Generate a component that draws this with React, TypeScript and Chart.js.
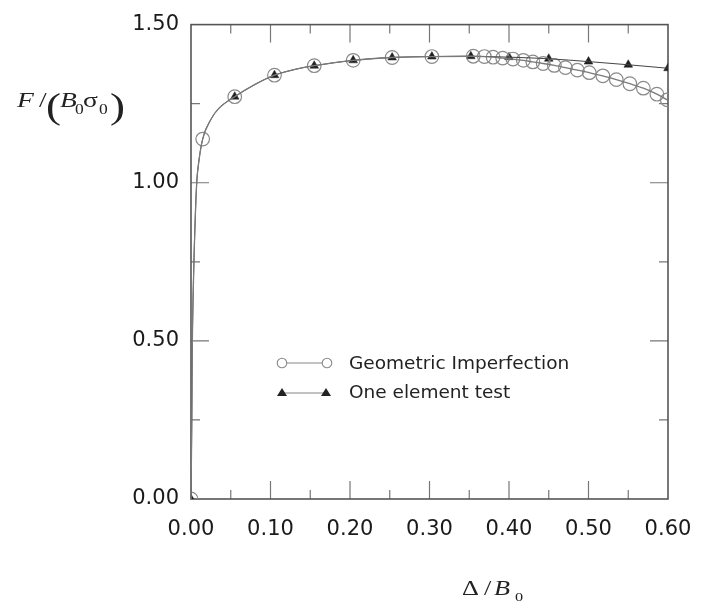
import React, { useEffect, useRef } from "react";
import { Chart, registerables } from "chart.js";

Chart.register(...registerables);

// ---------- data ----------
const xTickLabels = ["0.00", "0.10", "0.20", "0.30", "0.40", "0.50", "0.60"];
const yTickLabels = ["0.00", "0.50", "1.00", "1.50"];
const xMajorMarks = [0.1, 0.2, 0.3, 0.4, 0.5];
const xMinorMarks = [0.05, 0.15, 0.25, 0.35, 0.45, 0.55];
const yMajorMarks = [0.5, 1.0];
const yMinorMarks = [0.25, 0.75, 1.25];

const seriesLabels = ["Geometric Imperfection", "One element test"];

// smooth response curve (line only)
const giCurveX = [0, 0.0005, 0.001, 0.0015, 0.0025, 0.004, 0.0055, 0.0072, 0.01, 0.0147, 0.025, 0.035, 0.055, 0.08, 0.105, 0.13, 0.155, 0.204, 0.253, 0.303, 0.352,
  0.369, 0.380, 0.392, 0.405, 0.418, 0.430, 0.443, 0.457, 0.471, 0.486, 0.501, 0.518, 0.535, 0.552, 0.569, 0.586, 0.599];
const giCurveY = [0, 0.12, 0.25, 0.45, 0.62, 0.78, 0.9, 1.0, 1.07, 1.138, 1.2, 1.235, 1.272, 1.31, 1.34, 1.358, 1.37, 1.387, 1.396, 1.399, 1.400,
  1.399, 1.397, 1.394, 1.391, 1.387, 1.382, 1.377, 1.371, 1.364, 1.356, 1.348, 1.338, 1.326, 1.313, 1.299, 1.280, 1.262];

// markers (circles)
const giMarkX = [0, 0.0147, 0.055, 0.105, 0.155, 0.204, 0.253, 0.303, 0.355, 0.369, 0.380, 0.392, 0.405, 0.418, 0.430, 0.443, 0.457, 0.471, 0.486, 0.501, 0.518, 0.535, 0.552, 0.569, 0.586, 0.599];
const giMarkY = [0, 1.138, 1.272, 1.340, 1.370, 1.387, 1.396, 1.399, 1.400, 1.399, 1.397, 1.394, 1.391, 1.387, 1.382, 1.377, 1.371, 1.364, 1.356, 1.348, 1.338, 1.326, 1.313, 1.299, 1.280, 1.262];

// one element test curve and triangles
const oeCurveX = [0, 0.0005, 0.001, 0.0015, 0.0025, 0.004, 0.0055, 0.0072, 0.01, 0.0147, 0.025, 0.035, 0.055, 0.08, 0.105, 0.13, 0.155, 0.204, 0.253, 0.303, 0.352, 0.40, 0.45, 0.50, 0.55, 0.60];
const oeCurveY = [0, 0.12, 0.25, 0.45, 0.62, 0.78, 0.9, 1.0, 1.07, 1.138, 1.2, 1.235, 1.272, 1.31, 1.34, 1.358, 1.37, 1.387, 1.396, 1.399, 1.400, 1.397, 1.392, 1.383, 1.373, 1.362];
const oeMarkX = [0, 0.055, 0.105, 0.155, 0.204, 0.253, 0.303, 0.352, 0.40, 0.45, 0.50, 0.55, 0.60];
const oeMarkY = [0, 1.272, 1.340, 1.370, 1.387, 1.396, 1.399, 1.400, 1.397, 1.392, 1.383, 1.373, 1.362];

const pts = (xs: number[], ys: number[]) => xs.map((x, i) => ({ x, y: ys[i] }));

const SERIF = '"Liberation Serif", "Times New Roman", serif';
const SANS = '"DejaVu Sans", sans-serif';

type Seg = { t: string; size: number; italic?: boolean; x: number; y: number };

function drawSegs(ctx: CanvasRenderingContext2D, segs: Seg[], stretch: number) {
  ctx.fillStyle = "#222";
  ctx.textAlign = "left";
  ctx.textBaseline = "alphabetic";
  segs.forEach((s) => {
    ctx.save();
    ctx.translate(s.x, s.y);
    ctx.scale(stretch, 1);
    ctx.font = `${s.italic ? "italic " : ""}${s.size}px ${SERIF}`;
    ctx.fillText(s.t, 0, 0);
    ctx.restore();
  });
}

const decorPlugin = {
  id: "decor",
  beforeDatasetsDraw(chart: any) {
    const { ctx, chartArea: a, scales } = chart;
    const xs = scales.x;
    const ys = scales.y;
    ctx.save();
    ctx.strokeStyle = "#777";
    ctx.lineWidth = 1.2;
    const major = 18;
    const minor = 9;
    const xMark = (v: number, len: number) => {
      const px = xs.getPixelForValue(v);
      ctx.beginPath();
      ctx.moveTo(px, a.bottom);
      ctx.lineTo(px, a.bottom - len);
      ctx.moveTo(px, a.top);
      ctx.lineTo(px, a.top + len);
      ctx.stroke();
    };
    const yMark = (v: number, len: number) => {
      const py = ys.getPixelForValue(v);
      ctx.beginPath();
      ctx.moveTo(a.left, py);
      ctx.lineTo(a.left + len, py);
      ctx.moveTo(a.right, py);
      ctx.lineTo(a.right - len, py);
      ctx.stroke();
    };
    xMajorMarks.forEach((v) => xMark(v, major));
    xMinorMarks.forEach((v) => xMark(v, minor));
    yMajorMarks.forEach((v) => yMark(v, major));
    yMinorMarks.forEach((v) => yMark(v, minor));
    ctx.strokeStyle = "#555";
    ctx.lineWidth = 1.6;
    ctx.strokeRect(a.left, a.top, a.right - a.left, a.bottom - a.top);
    ctx.restore();
  },
  afterDraw(chart: any) {
    const { ctx } = chart;
    ctx.save();
    // legend
    ctx.strokeStyle = "#888";
    ctx.lineWidth = 1.1;
    ctx.beginPath();
    ctx.moveTo(282, 363);
    ctx.lineTo(327, 363);
    ctx.stroke();
    [282, 327].forEach((cx) => {
      ctx.beginPath();
      ctx.arc(cx, 363, 4.8, 0, Math.PI * 2);
      ctx.fillStyle = "#fff";
      ctx.fill();
      ctx.stroke();
    });
    ctx.strokeStyle = "#666";
    ctx.lineWidth = 0.8;
    ctx.beginPath();
    ctx.moveTo(282, 393);
    ctx.lineTo(326, 393);
    ctx.stroke();
    ctx.fillStyle = "#222";
    [282, 326].forEach((cx) => {
      ctx.beginPath();
      ctx.moveTo(cx, 388);
      ctx.lineTo(cx + 5, 396);
      ctx.lineTo(cx - 5, 396);
      ctx.closePath();
      ctx.fill();
    });
    ctx.font = `18.5px ${SANS}`;
    ctx.fillStyle = "#222";
    ctx.textAlign = "left";
    ctx.textBaseline = "alphabetic";
    ctx.fillText(seriesLabels[0], 349, 368.5);
    ctx.fillText(seriesLabels[1], 349, 398);

    // y-axis title  F/(B0 σ0)
    drawSegs(ctx, [
      { t: "F", size: 22, italic: true, x: 17, y: 107 },
      { t: "/", size: 22, x: 39, y: 107 },
      { t: "(", size: 36, x: 46, y: 118 },
      { t: "B", size: 22, italic: true, x: 60, y: 107 },
      { t: "0", size: 14, x: 75, y: 114 },
      { t: "σ", size: 22, x: 83, y: 107 },
      { t: "0", size: 14, x: 99, y: 114 },
      { t: ")", size: 36, x: 110, y: 118 },
    ], 1.25);
    // x-axis title  Δ/B0
    drawSegs(ctx, [
      { t: "Δ", size: 21, x: 462, y: 595 },
      { t: "/", size: 21, x: 484, y: 595 },
      { t: "B", size: 21, italic: true, x: 494, y: 595 },
      { t: "0", size: 13, x: 515, y: 601 },
    ], 1.25);
    ctx.restore();
  },
};

export default function App() {
  const ref = useRef<HTMLCanvasElement | null>(null);
  useEffect(() => {
    if (!ref.current) return;
    const chart = new Chart(ref.current, {
      type: "line",
      data: {
        datasets: [
          {
            label: "gi-curve",
            data: pts(giCurveX, giCurveY),
            borderColor: "#7a7a7a",
            borderWidth: 1.3,
            pointRadius: 0,
            cubicInterpolationMode: "monotone",
            fill: false,
          },
          {
            label: "oe-curve",
            data: pts(oeCurveX, oeCurveY),
            borderColor: "#444",
            borderWidth: 1,
            pointRadius: 0,
            cubicInterpolationMode: "monotone",
            fill: false,
          },
          {
            label: seriesLabels[0],
            data: pts(giMarkX, giMarkY),
            showLine: false,
            pointStyle: "circle",
            pointRadius: 6.8,
            pointBorderColor: "#8a8a8a",
            pointBackgroundColor: "rgba(255,255,255,0)",
            pointBorderWidth: 1.2,
          },
          {
            label: seriesLabels[1],
            data: pts(oeMarkX, oeMarkY),
            showLine: false,
            pointStyle: "triangle",
            pointRadius: 5,
            pointBorderColor: "#222",
            pointBackgroundColor: "#222",
            pointBorderWidth: 0.5,
          },
        ] as any,
      },
      options: {
        responsive: false,
        animation: false,
        layout: { padding: { left: 0, right: 42, top: 20, bottom: 0 } },
        plugins: { legend: { display: false }, tooltip: { enabled: false } },
        scales: {
          x: {
            type: "linear",
            min: 0,
            max: 0.6,
            grid: { display: false, drawTicks: false },
            border: { display: false },
            ticks: {
              stepSize: 0.1,
              padding: 18,
              color: "#1a1a1a",
              font: { family: "DejaVu Sans", size: 21 },
              maxRotation: 0,
              callback: (_v: any, i: number) => xTickLabels[i],
            },
            afterFit: (s: any) => {
              s.height = 103;
            },
          },
          y: {
            type: "linear",
            min: 0,
            max: 1.5,
            grid: { display: false, drawTicks: false },
            border: { display: false },
            ticks: {
              stepSize: 0.5,
              padding: 12,
              color: "#1a1a1a",
              font: { family: "DejaVu Sans", size: 21 },
              callback: (_v: any, i: number) => yTickLabels[i],
            },
            afterFit: (s: any) => {
              s.width = 191;
            },
          },
        },
      },
      plugins: [decorPlugin],
    } as any);
    return () => chart.destroy();
  }, []);
  return (
    <div style={{ position: "absolute", left: 0, top: 0, width: 710, height: 602, background: "#fff" }}>
      <canvas ref={ref} width={710} height={602} style={{ display: "block" }} />
    </div>
  );
}
